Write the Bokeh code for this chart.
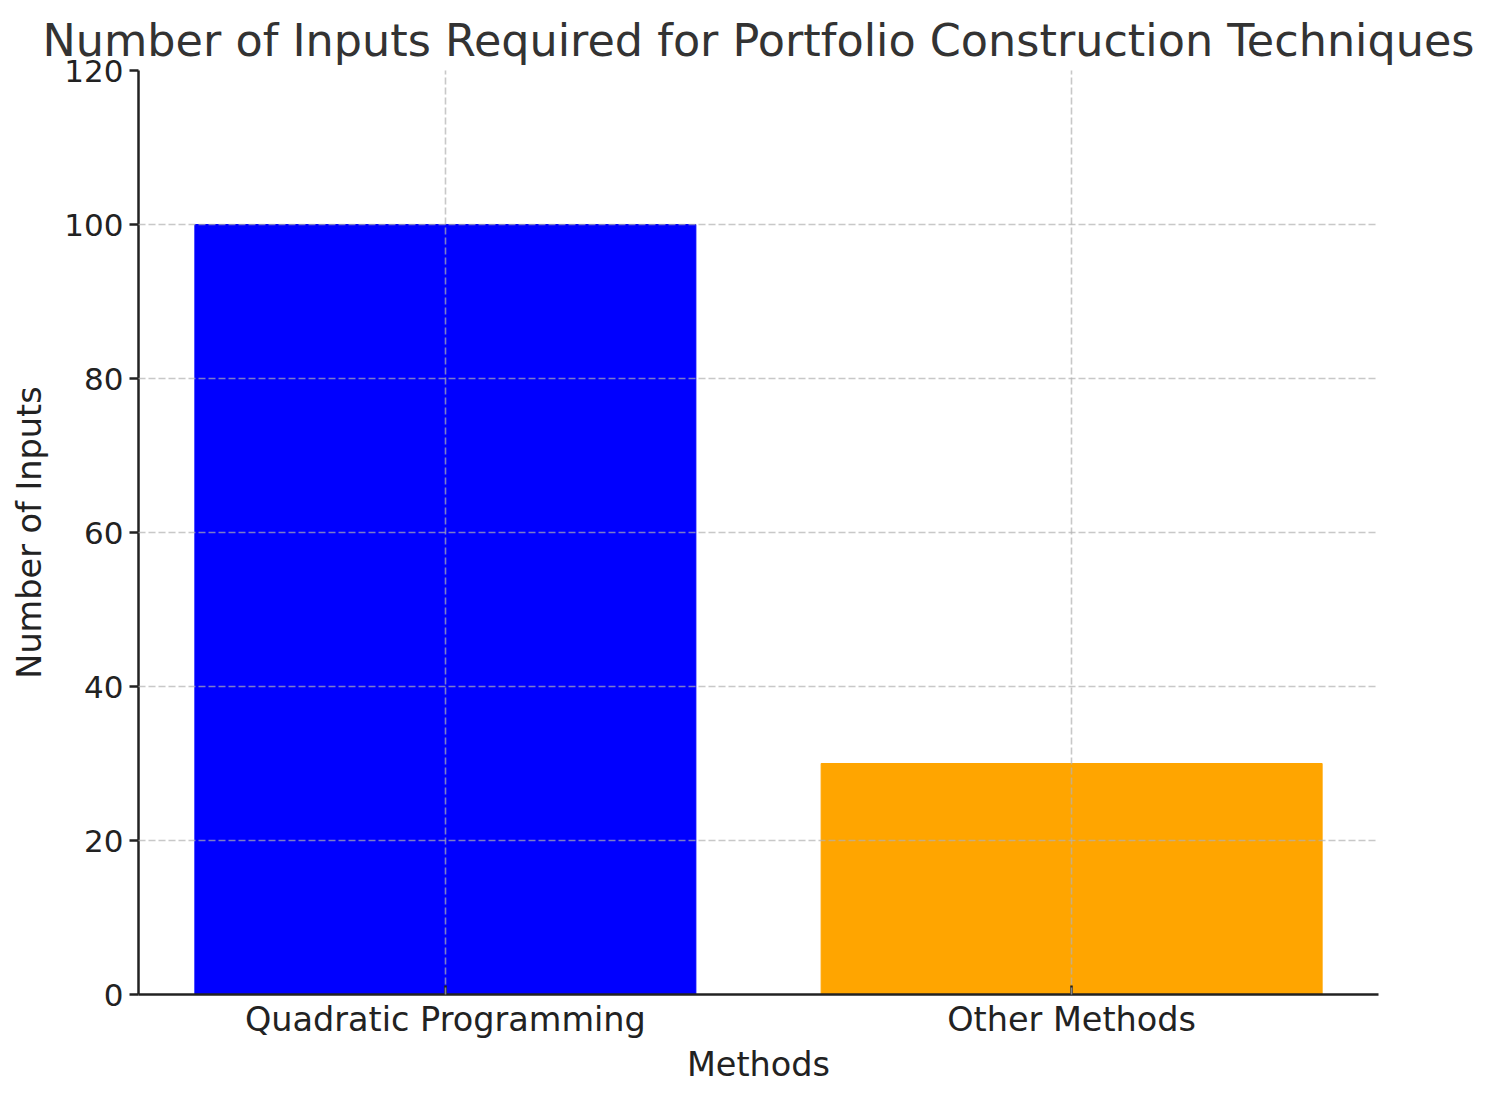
from bokeh.plotting import figure
from bokeh.models import ColumnDataSource, FixedTicker, Range1d
from bokeh.embed import file_html
from bokeh.resources import INLINE

methods = ["Quadratic Programming", "Other Methods"]
inputs = [100, 30]
colors = ["blue", "orange"]
positions = [0, 1]
y_ticks = [0, 20, 40, 60, 80, 100, 120]

src = ColumnDataSource(dict(x=positions, top=inputs, color=colors))

p = figure(width=1493, height=1101, output_backend="svg", toolbar_location=None,
           x_range=Range1d(-0.49, 1.49), y_range=Range1d(0, 120),
           min_border_left=138, min_border_right=115, min_border_top=70, min_border_bottom=107)
p.outline_line_color = None
p.background_fill_color = "white"
p.border_fill_color = "white"

p.vbar(x="x", top="top", bottom=0, width=0.8, color="color", source=src)

p.title.text = "Number of Inputs Required for Portfolio Construction Techniques"
p.title.text_font = "DejaVu Sans"
p.title.text_font_size = "44.5px"
p.title.text_font_style = "normal"
p.title.text_color = "#333333"
p.title.align = "center"
p.title.offset = 0
p.title.standoff = 10

for ax in (p.xaxis[0], p.yaxis[0]):
    ax.axis_line_width = 2.5
    ax.axis_line_color = "#222222"
    ax.major_tick_line_width = 2.5
    ax.major_tick_line_color = "#222222"
    ax.major_tick_out = 9
    ax.major_tick_in = 0
    ax.minor_tick_out = 0
    ax.minor_tick_in = 0
    ax.major_label_text_font = "DejaVu Sans"
    ax.major_label_text_font_size = "33.5px"
    ax.major_label_text_color = "#222222"
    ax.axis_label_text_font = "DejaVu Sans"
    ax.axis_label_text_font_size = "33.5px"
    ax.axis_label_text_font_style = "normal"
    ax.axis_label_text_color = "#222222"
    ax.major_label_standoff = 8

p.xaxis.ticker = FixedTicker(ticks=positions)
p.xaxis.major_label_overrides = {i: m for i, m in zip(positions, methods)}
p.xaxis.major_tick_out = 0
p.xaxis.major_tick_in = 9
p.xaxis.major_label_standoff = 5
p.xaxis.axis_label = "Methods"
p.xaxis.axis_label_standoff = 3
p.yaxis.ticker = FixedTicker(ticks=y_ticks)
p.yaxis.major_label_text_font_size = "31px"
p.yaxis.major_label_standoff = 6
p.yaxis.axis_label = "Number of Inputs"
p.yaxis.axis_label_standoff = 12

for g in (p.xgrid[0], p.ygrid[0]):
    g.grid_line_color = "#b0b0b0"
    g.grid_line_alpha = 0.7
    g.grid_line_dash = "7 3"
    g.grid_line_width = 1.6
    g.level = "overlay"

open("out.html", "w").write(file_html(p, INLINE))
